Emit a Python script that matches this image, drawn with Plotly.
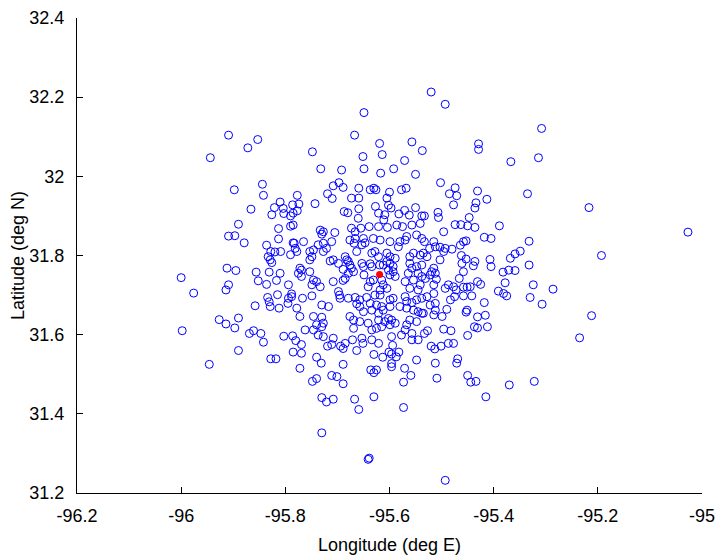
import plotly.graph_objects as go

# ---- data (longitude deg E, latitude deg N) ----
lon_a = [-95.909, -95.853, -95.872, -95.944, -95.844, -95.898, -95.842, -95.810, -95.866, -95.821, -95.804,
         -95.826, -95.803, -95.790, -95.890, -95.813, -95.790, -95.909, -95.897, -95.813, -95.879, -95.836, -95.785,
         -95.828, -95.820, -95.809, -95.833, -95.829, -95.826, -95.790, -95.912, -95.895, -95.856, -95.831, -95.810,
         -96.000, -95.852, -95.817, -95.836, -95.909, -95.914, -95.794, -95.976, -95.815, -95.788, -95.834, -95.794,
         -95.831, -95.795, -95.858, -95.829, -95.812, -95.890, -95.927, -95.914, -95.897, -95.998, -95.869, -95.861,
         -95.847, -95.842, -95.803, -95.786,
         -95.890, -95.946, -95.828, -95.818]
lat_a = [32.104, 32.093, 32.072, 32.047, 31.980, 31.966, 31.952, 31.935, 31.917, 31.921, 31.919,
         31.903, 31.906, 31.900, 31.879, 31.868, 31.874, 31.849, 31.850, 31.842, 31.832, 31.826, 31.832,
         31.810, 31.809, 31.810, 31.797, 31.789, 31.782, 31.802, 31.768, 31.762, 31.758, 31.758, 31.755,
         31.744, 31.736, 31.737, 31.727, 31.726, 31.713, 31.726, 31.705, 31.701, 31.703, 31.694, 31.692,
         31.683, 31.679, 31.673, 31.671, 31.667, 31.642, 31.638, 31.627, 31.617, 31.610, 31.603, 31.610,
         31.603, 31.581, 31.596, 31.597,
         31.560, 31.525, 31.539, 31.539]

lon_b = [-95.649, -95.667, -95.619, -95.557, -95.537, -95.748, -95.651, -95.614, -95.571, -95.732, -95.692, -95.649,
         -95.617, -95.592, -95.550, -95.697, -95.708, -95.689, -95.659, -95.637, -95.630, -95.626, -95.600, -95.577,
         -95.568, -95.719, -95.777, -95.710, -95.673, -95.659, -95.605, -95.743, -95.774, -95.786, -95.627, -95.602,
         -95.597, -95.571, -95.550, -95.659, -95.687, -95.680, -95.777, -95.785, -95.621, -95.609, -95.582]
lat_b = [32.161, 32.104, 32.083, 32.087, 32.065, 32.062, 32.050, 32.055, 32.040, 32.019, 32.016, 32.019,
         32.008, 32.019, 32.005, 31.984, 31.976, 31.972, 31.970, 31.966, 31.970, 31.966, 31.960, 31.966,
         31.970, 31.956, 31.952, 31.944, 31.945, 31.945, 31.945, 31.931, 31.930, 31.928, 31.924, 31.927,
         31.920, 31.914, 31.921, 31.918, 31.911, 31.908, 31.913, 31.907, 31.907, 31.903, 31.905]

lon_c = [-95.520, -95.493, -95.308, -95.429, -95.429, -95.367, -95.314, -95.502, -95.474, -95.485, -95.471, -95.431,
         -95.413, -95.335, -95.477, -95.434, -95.436, -95.507, -95.217, -95.027, -95.193, -95.286, -95.212, -95.235]
lat_c = [32.213, 32.182, 32.121, 32.082, 32.068, 32.037, 32.047, 31.984, 31.971, 31.956, 31.951, 31.963,
         31.942, 31.956, 31.928, 31.933, 31.920, 31.909, 31.921, 31.859, 31.800, 31.715, 31.648, 31.592]

lon_d = [-95.660, -95.611, -95.562, -95.538,
         -95.785, -95.673, -95.666, -95.655, -95.639, -95.621, -95.604, -95.586, -95.575, -95.557, -95.541, -95.733, -95.727, -95.730, -95.705,
         -95.765, -95.783, -95.737, -95.727, -95.711, -95.676, -95.666, -95.650, -95.647, -95.668, -95.653, -95.631, -95.618, -95.599, -95.580, -95.570, -95.567, -95.548, -95.538, -95.583,
         -95.781, -95.778, -95.753, -95.746, -95.749, -95.753, -95.727, -95.721, -95.663, -95.708, -95.685, -95.682, -95.679, -95.628, -95.621, -95.605, -95.599, -95.589, -95.561, -95.554, -95.541, -95.634,
         -95.714, -95.698, -95.676, -95.673, -95.653, -95.650, -95.637, -95.634, -95.619, -95.612, -95.605, -95.599, -95.593, -95.602, -95.593, -95.561, -95.557, -95.548, -95.538,
         -95.772, -95.769, -95.775, -95.753, -95.689, -95.679, -95.669, -95.649, -95.599, -95.589, -95.564, -95.545, -95.538,
         -95.685, -95.689, -95.708, -95.746, -95.740, -95.749, -95.733, -95.769, -95.637, -95.631, -95.641, -95.615, -95.612, -95.618, -95.605, -95.570, -95.554, -95.541, -95.545, -95.561,
         -95.788, -95.767, -95.749, -95.698, -95.696, -95.695, -95.679, -95.666, -95.657, -95.644, -95.628, -95.618, -95.599, -95.593, -95.570, -95.567, -95.557, -95.548, -95.538,
         -95.717, -95.730, -95.778, -95.663, -95.657, -95.637, -95.625, -95.615, -95.612, -95.599, -95.580, -95.567, -95.554, -95.545, -95.538, -95.650, -95.634, -95.621,
         -95.772, -95.746, -95.730, -95.676, -95.669, -95.727, -95.740, -95.730, -95.657, -95.641, -95.621, -95.609, -95.602, -95.596, -95.599, -95.589, -95.567, -95.561, -95.548,
         -95.625, -95.615, -95.634, -95.669, -95.762, -95.746, -95.737, -95.727, -95.708, -95.653, -95.596, -95.577, -95.570, -95.557, -95.545]
lat_d = [31.894, 31.890, 31.902, 31.900,
         31.877, 31.869, 31.860, 31.869, 31.873, 31.873, 31.871, 31.877, 31.873, 31.877, 31.881, 31.864, 31.860, 31.854, 31.858,
         31.835, 31.831, 31.827, 31.831, 31.835, 31.839, 31.843, 31.843, 31.832, 31.831, 31.827, 31.843, 31.839, 31.835, 31.835, 31.839, 31.848, 31.852, 31.843, 31.822,
         31.818, 31.810, 31.810, 31.814, 31.797, 31.789, 31.810, 31.818, 31.810, 31.789, 31.797, 31.789, 31.785, 31.810, 31.797, 31.806, 31.797, 31.793, 31.797, 31.806, 31.801, 31.806,
         31.786, 31.780, 31.776, 31.768, 31.780, 31.772, 31.779, 31.772, 31.776, 31.776, 31.785, 31.780, 31.772, 31.763, 31.759, 31.780, 31.768, 31.772, 31.776,
         31.768, 31.763, 31.755, 31.759, 31.765, 31.755, 31.759, 31.751, 31.751, 31.747, 31.755, 31.755, 31.747,
         31.742, 31.737, 31.734, 31.738, 31.734, 31.726, 31.721, 31.747, 31.734, 31.738, 31.721, 31.738, 31.726, 31.713, 31.717, 31.734, 31.738, 31.726, 31.713, 31.717,
         31.696, 31.692, 31.698, 31.709, 31.700, 31.692, 31.692, 31.694, 31.688, 31.694, 31.700, 31.700, 31.688, 31.692, 31.696, 31.684, 31.681, 31.688, 31.692,
         31.671, 31.675, 31.667, 31.678, 31.671, 31.679, 31.675, 31.671, 31.662, 31.671, 31.671, 31.667, 31.662, 31.658, 31.654, 31.658, 31.662, 31.654,
         31.646, 31.646, 31.644, 31.646, 31.637, 31.629, 31.625, 31.620, 31.633, 31.629, 31.637, 31.633, 31.641, 31.637, 31.625, 31.629, 31.625, 31.637, 31.633,
         31.616, 31.620, 31.612, 31.616, 31.612, 31.612, 31.599, 31.595, 31.591, 31.591, 31.595, 31.599, 31.612, 31.603, 31.587]

lon_e = [-95.533, -95.506, -95.447, -95.474, -95.463, -95.450, -95.436, -95.389, -95.496, -95.418, -95.405, -95.332,
         -95.533, -95.515, -95.523, -95.512, -95.503, -95.493, -95.496, -95.480, -95.464, -95.458, -95.453, -95.535, -95.528,
         -95.462, -95.453, -95.436, -95.461, -95.439, -95.458, -95.503, -95.515, -95.519, -95.512, -95.522, -95.510, -95.531, -95.466,
         -95.349, -95.359, -95.368, -95.407, -95.405, -95.332, -95.382, -95.371, -95.359, -95.378, -95.324, -95.431, -95.425, -95.391, -95.381, -95.375, -95.330, -95.307, -95.418,
         -95.487, -95.493, -95.477, -95.472, -95.458, -95.451, -95.445, -95.442, -95.458, -95.475, -95.483, -95.515, -95.515, -95.528, -95.522, -95.512, -95.512, -95.515, -95.499, -95.490,
         -95.451, -95.453, -95.416, -95.431, -95.412, -95.437, -95.431, -95.450, -95.482, -95.496, -95.527, -95.533, -95.535]
lat_e = [31.900, 31.896, 31.896, 31.878, 31.878, 31.875, 31.871, 31.875, 31.860, 31.846, 31.843, 31.836,
         31.835, 31.835, 31.818, 31.822, 31.821, 31.818, 31.810, 31.816, 31.826, 31.835, 31.837, 31.806, 31.797,
         31.800, 31.791, 31.785, 31.780, 31.774, 31.759, 31.789, 31.768, 31.759, 31.755, 31.751, 31.740, 31.742, 31.742,
         31.811, 31.804, 31.793, 31.790, 31.772, 31.776, 31.758, 31.763, 31.762, 31.731, 31.726, 31.734, 31.727, 31.710, 31.704, 31.698, 31.694, 31.677, 31.681,
         31.726, 31.717, 31.721, 31.713, 31.720, 31.720, 31.721, 31.698, 31.698, 31.696, 31.688, 31.726, 31.704, 31.696, 31.675, 31.679, 31.662, 31.650, 31.646, 31.664,
         31.662, 31.657, 31.649, 31.645, 31.620, 31.620, 31.617, 31.598, 31.610, 31.614, 31.610, 31.603, 31.654]

lon_f = [-95.780, -95.769, -95.785, -95.769, -95.719, -95.711, -95.694, -95.685, -95.689, -95.671, -95.651, -95.663, -95.634, -95.621, -95.594, -95.601, -95.582, -95.596, -95.587, -95.557, -95.630, -95.613,
         -95.740, -95.731, -95.772, -95.689, -95.596, -95.596, -95.571, -95.548, -95.636, -95.630, -95.625, -95.711, -95.701, -95.748, -95.740, -95.689, -95.559, -95.573,
         -95.730, -95.721, -95.708, -95.667, -95.659, -95.630, -95.573, -95.730, -95.641, -95.639,
         -95.520, -95.513, -95.501, -95.487, -95.477, -95.512, -95.469, -95.471, -95.509, -95.450, -95.444, -95.434, -95.415, -95.370, -95.322, -95.493]
lat_f = [31.585, 31.575, 31.556, 31.553, 31.571, 31.575, 31.571, 31.578, 31.565, 31.587, 31.578, 31.560, 31.587, 31.578, 31.573, 31.556, 31.556, 31.551, 31.544, 31.587, 31.550, 31.543,
         31.543, 31.528, 31.515, 31.525, 31.527, 31.519, 31.515, 31.536, 31.511, 31.504, 31.511, 31.497, 31.494, 31.482, 31.489, 31.476, 31.497, 31.480,
         31.441, 31.430, 31.437, 31.437, 31.411, 31.443, 31.416, 31.352, 31.285, 31.288,
         31.571, 31.564, 31.571, 31.578, 31.578, 31.528, 31.539, 31.528, 31.490, 31.497, 31.480, 31.482, 31.443, 31.473, 31.482, 31.232]

center_lon = [-95.619]
center_lat = [31.752]

x_ticks = [-96.2, -96.0, -95.8, -95.6, -95.4, -95.2, -95.0]
x_labels = ["-96.2", "-96", "-95.8", "-95.6", "-95.4", "-95.2", "-95"]
y_ticks = [31.2, 31.4, 31.6, 31.8, 32.0, 32.2, 32.4]
y_labels = ["31.2", "31.4", "31.6", "31.8", "32", "32.2", "32.4"]

for a, b in [(lon_a, lat_a), (lon_b, lat_b), (lon_c, lat_c), (lon_d, lat_d), (lon_e, lat_e), (lon_f, lat_f)]:
    assert len(a) == len(b), (len(a), len(b))

lons = lon_a + lon_b + lon_c + lon_d + lon_e + lon_f
lats = lat_a + lat_b + lat_c + lat_d + lat_e + lat_f

FONT = "Liberation Sans, Arial, Helvetica, sans-serif"

fig = go.Figure()
fig.add_trace(go.Scatter(
    x=lons, y=lats, mode="markers",
    marker=dict(symbol="circle-open", size=8, color="#0000ff", line=dict(width=1, color="#0000ff")),
    showlegend=False, hoverinfo="skip", cliponaxis=False,
))
fig.add_trace(go.Scatter(
    x=center_lon, y=center_lat, mode="markers",
    marker=dict(symbol="circle", size=7, color="#ff0000"),
    showlegend=False, hoverinfo="skip",
))

axis_common = dict(
    showgrid=False, zeroline=False, showline=True, linecolor="black", linewidth=1,
    ticks="inside", ticklen=6, tickcolor="black", tickwidth=1, mirror=False,
    tickfont=dict(family=FONT, size=18, color="black"), automargin=False,
    ticklabeloverflow="allow",
)
fig.update_xaxes(range=[-96.2, -95.0], tickmode="array", tickvals=x_ticks, ticktext=x_labels,
                 ticklabelstandoff=6,
                 title=dict(text="Longitude (deg E)", font=dict(family=FONT, size=18, color="black"), standoff=13),
                 **axis_common)
fig.update_yaxes(range=[31.2, 32.4], tickmode="array", tickvals=y_ticks, ticktext=y_labels,
                 ticklabelstandoff=8,
                 title=dict(text="Latitude (deg N)", font=dict(family=FONT, size=18, color="black"), standoff=0),
                 **axis_common)
fig.update_layout(
    width=717, height=560,
    margin=dict(l=77, r=15, t=18, b=67),
    plot_bgcolor="white", paper_bgcolor="white",
    font=dict(family=FONT, size=18, color="black"),
    hovermode=False,
)
fig.write_html("out.html", config={"displayModeBar": False, "staticPlot": True},
               post_script="document.body.style.margin='0';document.body.style.padding='0';")
